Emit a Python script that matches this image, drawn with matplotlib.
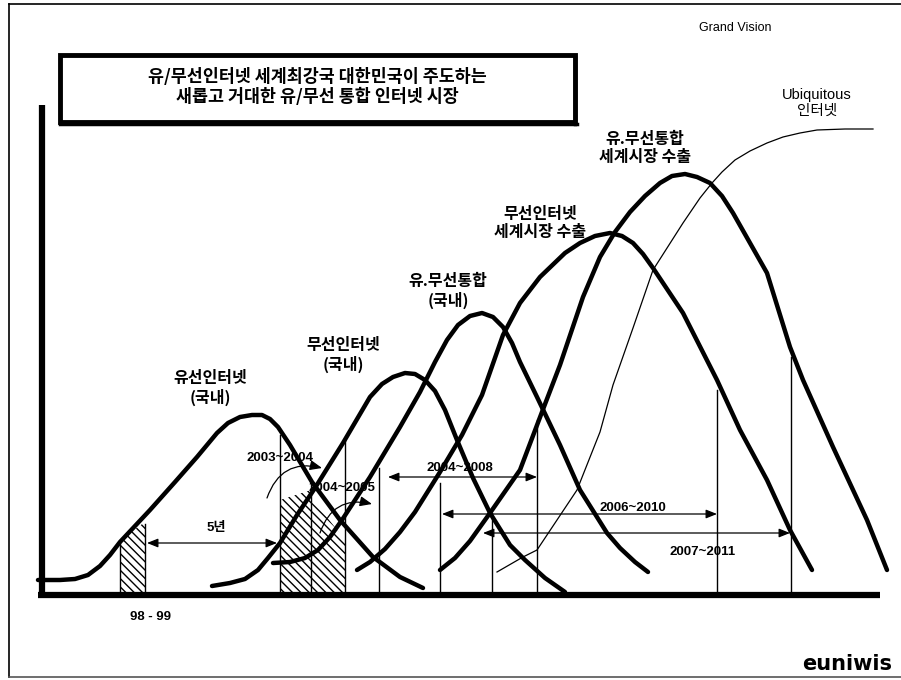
import matplotlib.pyplot as plt
from matplotlib.patches import Rectangle

plt.rcParams['font.family'] = ['Noto Sans CJK KR', 'DejaVu Sans']
plt.rcParams['hatch.linewidth'] = 1.0

# curves (x to the right, y downward, in picture pixels)
wired_x = [38, 60, 75, 88, 100, 110, 120, 150, 175, 197, 217, 228, 240, 252, 262, 270, 278, 290,
           312, 340, 373, 400, 423]
wired_y = [580, 580, 579, 575, 566, 555, 542, 510, 482, 457, 433, 423, 417, 415, 415, 419, 427, 445,
           482, 520, 557, 577, 588]

wless_x = [212, 230, 245, 258, 268, 280, 297, 315, 343, 370, 382, 393, 405, 415, 425, 435, 445, 457,
           473, 490, 510, 525, 545, 565]
wless_y = [586, 583, 579, 570, 558, 543, 515, 488, 443, 397, 384, 377, 373, 374, 380, 391, 410, 440,
           478, 513, 545, 560, 578, 592]

conv_x = [273, 290, 305, 318, 330, 342, 370, 400, 420, 435, 447, 458, 470, 482, 493, 503, 512, 520,
          537, 560, 580, 607, 620, 635, 648]
conv_y = [563, 562, 558, 550, 537, 520, 477, 427, 392, 362, 340, 325, 316, 313, 317, 327, 343, 362,
          397, 445, 490, 533, 548, 562, 572]

wless_exp_x = [357, 370, 385, 400, 415, 440, 462, 482, 503, 520, 540, 565, 580, 595, 610, 622, 633,
               643, 653, 683, 717, 740, 767, 790, 812]
wless_exp_y = [570, 562, 549, 532, 512, 472, 435, 395, 335, 303, 277, 253, 243, 236, 233, 236, 243,
               254, 268, 313, 380, 430, 480, 530, 570]

conv_exp_x = [440, 455, 470, 490, 520, 542, 560, 583, 600, 615, 630, 645, 660, 672, 685, 697, 710,
              722, 733, 767, 790, 803, 833, 867, 887]
conv_exp_y = [570, 558, 541, 513, 470, 412, 365, 297, 257, 232, 212, 196, 183, 176, 174, 177, 183,
              196, 213, 273, 347, 380, 447, 520, 570]

ubi_x = [497, 523, 537, 557, 577, 600, 613, 633, 653, 683, 700, 712, 722, 735, 750, 767, 783, 800,
         817, 845, 873]
ubi_y = [572, 557, 550, 520, 490, 432, 385, 328, 270, 223, 198, 183, 172, 160, 151, 143, 137, 133,
         130, 129, 129]

curve_labels = ['유선인터넷\n(국내)', '무선인터넷\n(국내)', '유.무선통합\n(국내)',
                '무선인터넷\n세계시장 수출', '유.무선통합\n세계시장 수출']
ubi_label = 'Ubiquitous\n인터넷'

# marker lines: x position and top end
marker_x = [120, 145, 280, 311, 345, 379, 440, 492, 537, 717, 791]
marker_top = [540, 524, 435, 482, 440, 468, 483, 513, 420, 390, 357]

# hatched strips: (x left, x right, top left, top right)
hatch_x0 = [120, 280, 311]
hatch_x1 = [145, 311, 345]
hatch_t0 = [540, 500, 497]
hatch_t1 = [522, 490, 540]

# period arrows
span_labels = ['5년', '2004~2008', '2006~2010', '2007~2011']
span_from = [147, 388, 442, 483]
span_to = [277, 537, 717, 790]
span_y = [543, 477, 514, 533]

title_lines = '유/무선인터넷 세계최강국 대한민국이 주도하는\n새롭고 거대한 유/무선 통합 인터넷 시장'

BASE = 595

fig = plt.figure(figsize=(9.01, 6.8), dpi=100)
ax = fig.add_axes([0, 0, 1, 1])
ax.set_xlim(0, 901)
ax.set_ylim(680, 0)
ax.axis('off')

# page frame
ax.plot([9, 9], [4, 677], color='black', lw=1.2)
ax.plot([9, 901], [4, 4], color='black', lw=1.2)
ax.plot([9, 901], [677, 677], color='#555555', lw=1.2)

# axes
ax.plot([42, 42], [105, BASE + 3], color='black', lw=4.5, solid_capstyle='butt')
ax.plot([38, 880], [BASE, BASE], color='black', lw=4.5, solid_capstyle='butt')

# hatched strips
for x0, x1, t0, t1 in zip(hatch_x0, hatch_x1, hatch_t0, hatch_t1):
    ax.fill([x0, x1, x1, x0], [BASE, BASE, t1, t0], facecolor='none',
            edgecolor='black', hatch='\\\\\\\\', lw=0)

# marker lines
for x, t in zip(marker_x, marker_top):
    ax.plot([x, x], [t, BASE], color='black', lw=1.0)

# curves
for cx, cy in [(wired_x, wired_y), (wless_x, wless_y), (conv_x, conv_y),
               (wless_exp_x, wless_exp_y), (conv_exp_x, conv_exp_y)]:
    ax.plot(cx, cy, color='black', lw=3.2, solid_capstyle='round', solid_joinstyle='round')
ax.plot(ubi_x, ubi_y, color='black', lw=0.9, solid_joinstyle='round')

# curve labels
kw = dict(ha='center', va='center', fontsize=11.5, fontweight='bold', linespacing=1.15)
ax.text(210, 388, curve_labels[0], **kw)
ax.text(343, 355, curve_labels[1], **kw)
ax.text(448, 291, curve_labels[2], **kw)
ax.text(540, 223, curve_labels[3], **kw)
ax.text(645, 148, curve_labels[4], **kw)
ax.text(817, 103, ubi_label, ha='center', va='center', fontsize=10.5,
        family=['Liberation Sans', 'Noto Sans CJK KR'], linespacing=1.15)

# period arrows
for lab, a, b, y in zip(span_labels, span_from, span_to, span_y):
    ax.annotate('', xy=(b, y), xytext=(a, y),
                arrowprops=dict(arrowstyle='<|-|>,head_length=0.55,head_width=0.22',
                                color='black', lw=0.9, mutation_scale=12,
                                shrinkA=0, shrinkB=0))

nkw = dict(ha='center', va='center', fontsize=9.5, fontweight='bold',
           family=['Liberation Sans', 'Noto Sans CJK KR'])
ax.text(216, 528, span_labels[0], **nkw)
ax.text(460, 468, span_labels[1], **nkw)
ax.text(633, 508, span_labels[2], **nkw)
ax.text(703, 552, span_labels[3], **nkw)
ax.text(280, 458, '2003~2004', **nkw)
ax.text(342, 488, '2004~2005', **nkw)
ax.text(151, 617, '98 - 99', **nkw)

# curved pointers
ax.annotate('', xy=(322, 468), xytext=(267, 498),
            arrowprops=dict(arrowstyle='-|>,head_length=0.6,head_width=0.25', color='black',
                            lw=0.9, mutation_scale=12, shrinkA=0, shrinkB=0,
                            connectionstyle='arc3,rad=-0.45'))
ax.annotate('', xy=(372, 504), xytext=(320, 533),
            arrowprops=dict(arrowstyle='-|>,head_length=0.6,head_width=0.25', color='black',
                            lw=0.9, mutation_scale=12, shrinkA=0, shrinkB=0,
                            connectionstyle='arc3,rad=-0.45'))

# title box
ax.add_patch(Rectangle((60, 55), 515, 67, facecolor='white', edgecolor='black', lw=3.5))
ax.plot([575, 575], [57, 124], color='black', lw=2.5)
ax.plot([60, 577], [124, 124], color='black', lw=2.5)
ax.text(317, 87, title_lines, ha='center', va='center', fontsize=12.5,
        fontweight='bold', linespacing=1.2)

ax.text(735, 28, 'Grand Vision', ha='center', va='center', fontsize=9,
        family='Liberation Sans')
ax.text(847, 664, 'euniwis', ha='center', va='center', fontsize=15,
        fontweight='bold', family='DejaVu Sans')

fig.savefig('out.png', dpi=100)
